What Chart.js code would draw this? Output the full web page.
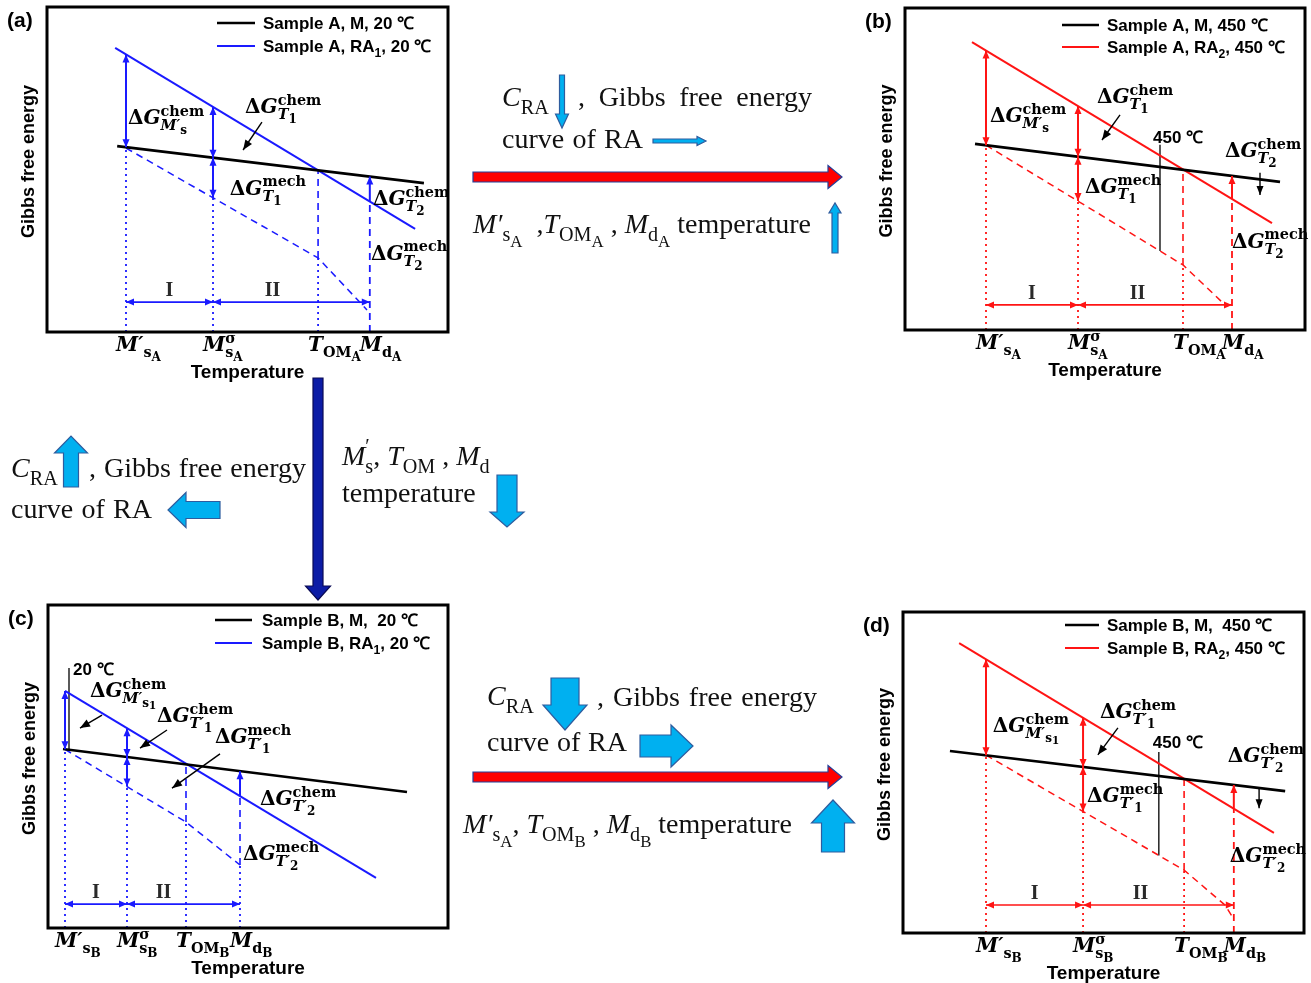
<!DOCTYPE html>
<html>
<head>
<meta charset="utf-8">
<title>Gibbs free energy curves of RA and M</title>
<script src="https://cdn.jsdelivr.net/npm/chart.js@4.4.1/dist/chart.umd.min.js"></script>
<style>
  html, body { margin: 0; padding: 0; background: #fff; }
  #figure { position: relative; width: 1311px; height: 983px; overflow: hidden; background: #fff; }
  #figure canvas { position: absolute; left: 0; top: 0; }
</style>
</head>
<body>
<div id="figure">
  <canvas id="panel-a" width="1311" height="983"></canvas>
  <canvas id="panel-b" width="1311" height="983"></canvas>
  <canvas id="panel-c" width="1311" height="983"></canvas>
  <canvas id="panel-d" width="1311" height="983"></canvas>
</div>
<script>
// temperature axis and energy axis both run 0..100 (schematic units)
// marks = M's, Msσ, T_OM, Md

// (a) sample A, 20 °C
const aMarks = [19.7, 41.4, 67.6, 80.5]
const aMartensite = [{ x: 17.5, y: 57.2 }, { x: 94, y: 45.8 }]
const aAustenite = [{ x: 17, y: 87.4 }, { x: 91.8, y: 31.7 }]
const aMechanical = [{ x: 19.7, y: 56.6 }, { x: 67.6, y: 22.8 }, { x: 79.8, y: 6.8 }]

// (b) sample A, 450 °C
const bMarks = [20.25, 43.25, 69.5, 81.75]
const bMartensite = [{ x: 17.5, y: 57.8 }, { x: 93.75, y: 46 }]
const bAustenite = [{ x: 16.75, y: 89.4 }, { x: 91.75, y: 33.2 }]
const bMechanical = [{ x: 20.25, y: 57.4 }, { x: 69.5, y: 20.2 }, { x: 80, y: 7.8 }]
const bHoldLine = [63.75, 57.5]
const bDrop = [88.75, 48.8, 41.9]

// (c) sample B, 20 °C
const cMarks = [4.25, 19.75, 34.5, 48]
const cMartensite = [{ x: 3.75, y: 55.4 }, { x: 89.75, y: 42.1 }]
const cAustenite = [{ x: 4.25, y: 73.4 }, { x: 82, y: 15.5 }]
const cMechanical = [{ x: 4.25, y: 55.3 }, { x: 34.5, y: 32.8 }, { x: 48, y: 19.5 }]
const cHoldLine = [5.25, 80.5]

// (d) sample B, 450 °C
const dMarks = [20.7, 44.9, 70.1, 82.5]
const dMartensite = [{ x: 11.7, y: 56.7 }, { x: 95.3, y: 44.2 }]
const dAustenite = [{ x: 14, y: 90.3 }, { x: 92.5, y: 31.2 }]
const dMechanical = [{ x: 20.7, y: 55.4 }, { x: 70.1, y: 19.6 }, { x: 80.3, y: 8.7 }, { x: 82.3, y: 4.7 }]
const dHoldLine = [63.8, 56.4]
const dDrop = [88.8, 45.2, 38.9]

// text tokens: [text, level, italic]  level -1 sup, 0 base, 1 sub, 2 sub-sub
const tickLabelsA = [
  [["M′", 0, 1], ["s", 1], ["A", 2]],
  [["M", 0, 1], ["σ", -1], ["s", 1], ["A", 2]],
  [["T", 0, 1], ["OM", 1], ["A", 2]],
  [["M", 0, 1], ["d", 1], ["A", 2]]
]
const tickLabelsB = [
  [["M′", 0, 1], ["s", 1], ["B", 2]],
  [["M", 0, 1], ["σ", -1], ["s", 1], ["B", 2]],
  [["T", 0, 1], ["OM", 1], ["B", 2]],
  [["M", 0, 1], ["d", 1], ["B", 2]]
]
const deltaLabelsA = [
  [["Δ"], ["G", 0, 1], ["chem", -1], ["M′", 1, 1], ["s", 2]],
  [["Δ"], ["G", 0, 1], ["chem", -1], ["T", 1, 1], ["1", 2]],
  [["Δ"], ["G", 0, 1], ["mech", -1], ["T", 1, 1], ["1", 2]],
  [["Δ"], ["G", 0, 1], ["chem", -1], ["T", 1, 1], ["2", 2]],
  [["Δ"], ["G", 0, 1], ["mech", -1], ["T", 1, 1], ["2", 2]]
]
const deltaLabelsB = [
  [["Δ"], ["G", 0, 1], ["chem", -1], ["M′", 1, 1], ["s", 2], ["1", 3]],
  [["Δ"], ["G", 0, 1], ["chem", -1], ["T′", 1, 1], ["1", 2]],
  [["Δ"], ["G", 0, 1], ["mech", -1], ["T′", 1, 1], ["1", 2]],
  [["Δ"], ["G", 0, 1], ["chem", -1], ["T′", 1, 1], ["2", 2]],
  [["Δ"], ["G", 0, 1], ["mech", -1], ["T′", 1, 1], ["2", 2]]
]
const legendA = [[["Sample A, M, 20 ℃"]], [["Sample A, RA"], ["1", 1], [", 20 ℃"]]]
const legendB = [[["Sample A, M, 450 ℃"]], [["Sample A, RA"], ["2", 1], [", 450 ℃"]]]
const legendC = [[["Sample B, M,  20 ℃"]], [["Sample B, RA"], ["1", 1], [", 20 ℃"]]]
const legendD = [[["Sample B, M,  450 ℃"]], [["Sample B, RA"], ["2", 1], [", 450 ℃"]]]

const W = 1311
const H = 983
const SERIF = '"DejaVu Serif", serif'
const TIMES = '"Liberation Serif", "Times New Roman", serif'
const SANS = '"Liberation Sans", Arial, sans-serif'
const BLUE = "#1a1aff"
const RED = "#ff1414"
const LIGHT = "#00b0f0"
const EDGE = "#2e5c9e"

const panels = [
  {
    id: "panel-a", tag: "(a)", color: BLUE, frame: { left: 47, top: 7, right: 448, bottom: 332 },
    marks: aMarks, martensite: aMartensite, austenite: aAustenite, mechanical: aMechanical,
    ticks: tickLabelsA, deltas: deltaLabelsA, legend: legendA, mdTail: "dashed",
    legendAt: { x0: 217, x1: 255, tx: 263, y: [23, 46] }, stageY: 9.2,
    labelAt: [[20.2, 64], [49.4, 67.4], [45.6, 42.2], [81.3, 39.1], [80.8, 22.2]],
    pointers: [[53.6, 64.6, 48.9, 56]]
  },
  {
    id: "panel-b", tag: "(b)", color: RED, frame: { left: 905, top: 8, right: 1305, bottom: 330 },
    marks: bMarks, martensite: bMartensite, austenite: bAustenite, mechanical: bMechanical,
    ticks: tickLabelsA, deltas: deltaLabelsA, legend: legendB, mdTail: "dashed",
    legendAt: { x0: 1062, x1: 1099, tx: 1107, y: [25, 47] }, stageY: 7.8,
    labelAt: [[21.25, 64.6], [48, 70.5], [45, 42.5], [80, 53.7], [81.75, 25.5]],
    pointers: [[53.75, 66.8, 49.25, 59]],
    hold: bHoldLine, holdFrom: "mech", holdLabel: "450 ℃", holdLabelAt: [62, 58.1], drop: bDrop
  },
  {
    id: "panel-c", tag: "(c)", color: BLUE, frame: { left: 48, top: 605, right: 448, bottom: 928 },
    marks: cMarks, martensite: cMartensite, austenite: cAustenite, mechanical: cMechanical,
    ticks: tickLabelsB, deltas: deltaLabelsB, legend: legendC, mdTail: "split",
    legendAt: { x0: 215, x1: 252, tx: 262, y: [620, 643] }, stageY: 7.4,
    labelAt: [[10.5, 71.5], [27.25, 63.8], [41.75, 57.3], [53, 38.1], [48.75, 21]],
    pointers: [[13.5, 65.9, 8, 61.9], [29.75, 61.3, 23, 55.7], [43, 53.9, 31, 43.3]],
    hold: cHoldLine, holdFrom: "m", holdLabel: "20 ℃", holdLabelAt: [6.25, 78.3]
  },
  {
    id: "panel-d", tag: "(d)", color: RED, frame: { left: 903, top: 612, right: 1304, bottom: 933 },
    marks: dMarks, martensite: dMartensite, austenite: dAustenite, mechanical: dMechanical,
    ticks: tickLabelsB, deltas: deltaLabelsB, legend: legendD, mdTail: "dashed",
    legendAt: { x0: 1065, x1: 1099, tx: 1107, y: [625, 648] }, stageY: 8.7,
    labelAt: [[22.4, 62.6], [49.1, 67], [45.9, 40.8], [81, 53.3], [81.5, 22.1]],
    pointers: [[53.6, 63.9, 48.6, 55.5]],
    hold: dHoldLine, holdFrom: "mech", holdLabel: "450 ℃", holdLabelAt: [62.3, 57.6], drop: dDrop
  }
]

function valueAt(points, x) {
  for (let i = 0; i < points.length - 1; i++) {
    const p0 = points[i]
    const p1 = points[i + 1]
    if (x <= p1.x || i === points.length - 2) return p0.y + (p1.y - p0.y) * (x - p0.x) / (p1.x - p0.x)
  }
}

function drawMath(ctx, tokens, x, y, o) {
  const size = o.size
  const family = o.family || SERIF
  const weight = o.weight || "bold"
  const scale = { "-1": 0.72, 0: 1, 1: 0.72, 2: 0.6, 3: 0.52 }
  const shift = { "-1": -0.42, 0: 0, 1: 0.3, 2: 0.5, 3: 0.6 }
  let cx = 0
  let reach = 0
  const parts = tokens.map(tk => {
    const text = tk[0]
    const level = tk[1] || 0
    ctx.font = `${tk[2] ? "italic " : ""}${weight} ${(size * scale[level]).toFixed(1)}px ${family}`
    const w = ctx.measureText(text).width
    const part = { text, font: ctx.font, x: cx, dy: size * shift[level] }
    if (level === -1) reach = Math.max(reach, cx + w)
    else cx += w
    reach = Math.max(reach, cx)
    return part
  })
  const left = o.align === "center" ? x - reach / 2 : x
  ctx.save()
  ctx.fillStyle = o.color || "#000"
  ctx.textBaseline = "alphabetic"
  ctx.textAlign = "left"
  parts.forEach(part => {
    ctx.font = part.font
    ctx.fillText(part.text, left + part.x, y + part.dy)
  })
  ctx.restore()
  return reach
}

function spreadText(ctx, text, x, y, width, o) {
  ctx.save()
  ctx.font = `${o.weight || "normal"} ${o.size}px ${o.family}`
  ctx.fillStyle = o.color || "#000"
  ctx.textBaseline = "alphabetic"
  const words = text.split(" ")
  const total = words.reduce((s, w) => s + ctx.measureText(w).width, 0)
  const gap = words.length > 1 ? (width - total) / (words.length - 1) : 0
  let cx = x
  words.forEach(w => {
    ctx.fillText(w, cx, y)
    cx += ctx.measureText(w).width + gap
  })
  ctx.restore()
}

function arrowHead(ctx, x, y, angle, len, half) {
  const c = Math.cos(angle)
  const s = Math.sin(angle)
  ctx.beginPath()
  ctx.moveTo(x, y)
  ctx.lineTo(x - len * c + half * s, y - len * s - half * c)
  ctx.lineTo(x - len * c - half * s, y - len * s + half * c)
  ctx.closePath()
  ctx.fill()
}

function arrow(ctx, x0, y0, x1, y1, o) {
  const angle = Math.atan2(y1 - y0, x1 - x0)
  ctx.save()
  ctx.strokeStyle = o.color
  ctx.fillStyle = o.color
  ctx.lineWidth = o.width || 2
  ctx.beginPath()
  ctx.moveTo(x0, y0)
  ctx.lineTo(x1, y1)
  ctx.stroke()
  arrowHead(ctx, x1, y1, angle, o.len || 8, o.half || 3.5)
  if (o.both) arrowHead(ctx, x0, y0, angle + Math.PI, o.len || 8, o.half || 3.5)
  ctx.restore()
}

function blockArrow(ctx, x0, y0, x1, y1, shaft, head, headLen, fill, stroke) {
  const angle = Math.atan2(y1 - y0, x1 - x0)
  const len = Math.hypot(x1 - x0, y1 - y0)
  ctx.save()
  ctx.translate(x0, y0)
  ctx.rotate(angle)
  ctx.beginPath()
  ctx.moveTo(0, -shaft / 2)
  ctx.lineTo(len - headLen, -shaft / 2)
  ctx.lineTo(len - headLen, -head / 2)
  ctx.lineTo(len, 0)
  ctx.lineTo(len - headLen, head / 2)
  ctx.lineTo(len - headLen, shaft / 2)
  ctx.lineTo(0, shaft / 2)
  ctx.closePath()
  ctx.fillStyle = fill
  ctx.fill()
  ctx.strokeStyle = stroke
  ctx.lineWidth = 1.2
  ctx.stroke()
  ctx.restore()
}

function buildDatasets(p) {
  const m = v => valueAt(p.martensite, v)
  const ra = v => valueAt(p.austenite, v)
  const mech = v => valueAt(p.mechanical, v)
  const ms = p.marks[0]
  const msig = p.marks[1]
  const tom = p.marks[2]
  const md = p.marks[3]
  const dotted = [2, 4]
  const dashed = [7, 5]
  const line = (data, color, width, dash) => ({
    data, borderColor: color, borderWidth: width, borderDash: dash || [], pointRadius: 0, fill: false, tension: 0
  })

  const sets = [
    line(p.martensite, "#000", 2.6),
    line(p.austenite, p.color, 2),
    line(p.mechanical, p.color, 1.5, dashed),
    line([{ x: ms, y: 0 }, { x: ms, y: m(ms) }], p.color, 1.8, dotted),
    line([{ x: msig, y: 0 }, { x: msig, y: mech(msig) }], p.color, 1.8, dotted),
    line([{ x: tom, y: mech(tom) }, { x: tom, y: m(tom) }], p.color, 1.6, dashed),
    line([{ x: tom, y: 0 }, { x: tom, y: mech(tom) }], p.color, 1.8, dotted)
  ]
  if (p.mdTail === "split") {
    sets.push(line([{ x: md, y: mech(md) }, { x: md, y: ra(md) }], p.color, 1.6, dashed))
    sets.push(line([{ x: md, y: 0 }, { x: md, y: mech(md) }], p.color, 1.8, dotted))
  } else {
    sets.push(line([{ x: md, y: 0 }, { x: md, y: ra(md) }], p.color, 1.8, dashed))
  }
  if (p.hold) {
    const base = p.holdFrom === "mech" ? mech(p.hold[0]) : m(p.hold[0])
    sets.push(line([{ x: p.hold[0], y: base }, { x: p.hold[0], y: p.hold[1] }], "#000", 1.3))
  }
  return sets
}

function panelDecor(p) {
  return {
    id: "panelDecor",
    afterDatasetsDraw(chart) {
      const ctx = chart.ctx
      const area = chart.chartArea
      const px = v => chart.scales.x.getPixelForValue(v)
      const py = v => chart.scales.y.getPixelForValue(v)
      const m = v => valueAt(p.martensite, v)
      const ra = v => valueAt(p.austenite, v)
      const mech = v => valueAt(p.mechanical, v)
      const ms = p.marks[0]
      const msig = p.marks[1]
      const md = p.marks[3]
      const head = { color: p.color, width: 2, len: 8, half: 3.5 }

      // driving force arrows
      arrow(ctx, px(ms), py(m(ms)), px(ms), py(ra(ms)), { ...head, both: true })
      arrow(ctx, px(msig), py(m(msig)), px(msig), py(ra(msig)), { ...head, both: true })
      arrow(ctx, px(msig), py(mech(msig)), px(msig), py(m(msig)), { ...head, both: true })
      arrow(ctx, px(md), py(ra(md)), px(md), py(m(md)), head)

      // stage I / II
      const stage = py(p.stageY)
      arrow(ctx, px(ms), stage, px(msig), stage, { ...head, width: 1.6, both: true })
      arrow(ctx, px(msig), stage, px(md), stage, { ...head, width: 1.6, both: true })
      ctx.save()
      ctx.fillStyle = "#2a2a2a"
      ctx.font = `bold 20px ${TIMES}`
      ctx.textAlign = "center"
      ctx.fillText("I", (px(ms) + px(msig)) / 2, stage - 6)
      ctx.fillText("II", (px(msig) + px(p.marks[2])) / 2 + 7, stage - 6)
      ctx.restore()

      if (p.drop) arrow(ctx, px(p.drop[0]), py(p.drop[1]), px(p.drop[0]), py(p.drop[2]), { color: "#000", width: 1.4, len: 9, half: 3.5 })
      p.pointers.forEach(q => arrow(ctx, px(q[0]), py(q[1]), px(q[2]), py(q[3]), { color: "#000", width: 1.4, len: 10, half: 4 }))
      p.labelAt.forEach((at, i) => drawMath(ctx, p.deltas[i], px(at[0]), py(at[1]), { size: 20 }))
      if (p.hold) drawMath(ctx, [[p.holdLabel]], px(p.holdLabelAt[0]), py(p.holdLabelAt[1]), { size: 17, family: SANS })

      // frame
      ctx.save()
      ctx.lineWidth = 3
      ctx.strokeStyle = "#000"
      ctx.strokeRect(area.left, area.top, area.right - area.left, area.bottom - area.top)
      ctx.restore()

      // temperature marks
      p.marks.forEach((v, i) => drawMath(ctx, p.ticks[i], px(v) - 10, area.bottom + 19, { size: 20 }))

      // titles and panel tag
      ctx.save()
      ctx.fillStyle = "#000"
      ctx.font = `bold 19px ${SANS}`
      ctx.textAlign = "center"
      ctx.fillText("Temperature", (area.left + area.right) / 2, area.bottom + 46)
      ctx.translate(area.left - 18, (area.top + area.bottom) / 2 - 8)
      ctx.rotate(-Math.PI / 2)
      ctx.textBaseline = "middle"
      ctx.font = `bold 18px ${SANS}`
      ctx.fillText("Gibbs free energy", 0, 0)
      ctx.restore()
      drawMath(ctx, [[p.tag]], area.left - 40, area.top + 20, { size: 21, family: SANS })

      // legend
      p.legend.forEach((tokens, i) => {
        const y = p.legendAt.y[i]
        ctx.save()
        ctx.strokeStyle = i ? p.color : "#000"
        ctx.lineWidth = i ? 2 : 2.5
        ctx.beginPath()
        ctx.moveTo(p.legendAt.x0, y)
        ctx.lineTo(p.legendAt.x1, y)
        ctx.stroke()
        ctx.restore()
        drawMath(ctx, tokens, p.legendAt.tx, y + 6, { size: 17, family: SANS })
      })
    }
  }
}

const connectorText = { size: 28, family: TIMES, weight: "normal", color: "#111" }

function drawConnectors(ctx) {
  // (a) -> (b)
  drawMath(ctx, [["C", 0, 1], ["RA", 1]], 502, 106, connectorText)
  blockArrow(ctx, 562, 75, 562, 128, 5, 13, 14, LIGHT, EDGE)
  spreadText(ctx, ", Gibbs free energy", 578, 106, 234, connectorText)
  spreadText(ctx, "curve of RA", 502, 148, 141, connectorText)
  blockArrow(ctx, 653, 141, 706, 141, 4, 9, 9, LIGHT, EDGE)
  blockArrow(ctx, 473, 177, 842, 177, 10, 23, 14, "#ff0000", "#24409a")
  drawMath(ctx, [["M′", 0, 1], ["s", 1], ["A", 2], ["  ,", 0], ["T", 0, 1], ["OM", 1], ["A", 2], [" , ", 0],
    ["M", 0, 1], ["d", 1], ["A", 2], [" temperature", 0]], 473, 233, connectorText)
  blockArrow(ctx, 835, 253, 835, 203, 6, 12, 10, LIGHT, EDGE)

  // (a) -> (c)
  blockArrow(ctx, 318, 378, 318, 600, 10, 25, 14, "#0c1ca6", "#0a0a55")
  drawMath(ctx, [["C", 0, 1], ["RA", 1]], 11, 477, connectorText)
  blockArrow(ctx, 71, 487, 71, 436, 15, 33, 17, LIGHT, EDGE)
  spreadText(ctx, ", Gibbs free energy", 89, 477, 217, connectorText)
  spreadText(ctx, "curve of RA", 11, 518, 141, connectorText)
  blockArrow(ctx, 220, 510, 168, 510, 17, 35, 18, LIGHT, EDGE)
  drawMath(ctx, [["M", 0, 1], ["′", -1], ["s", 1], [", ", 0], ["T", 0, 1], ["OM", 1], [" , ", 0], ["M", 0, 1], ["d", 1]],
    342, 465, connectorText)
  spreadText(ctx, "temperature", 342, 502, 137, connectorText)
  blockArrow(ctx, 507, 475, 507, 527, 20, 34, 15, LIGHT, EDGE)

  // (c) -> (d)
  drawMath(ctx, [["C", 0, 1], ["RA", 1]], 487, 705, connectorText)
  blockArrow(ctx, 565, 678, 565, 730, 28, 44, 25, LIGHT, EDGE)
  spreadText(ctx, ", Gibbs free energy", 597, 706, 220, connectorText)
  spreadText(ctx, "curve of RA", 487, 751, 140, connectorText)
  blockArrow(ctx, 640, 746, 693, 746, 22, 42, 22, LIGHT, EDGE)
  blockArrow(ctx, 473, 777, 842, 777, 10, 23, 14, "#ff0000", "#24409a")
  drawMath(ctx, [["M′", 0, 1], ["s", 1], ["A", 2], [", ", 0], ["T", 0, 1], ["OM", 1], ["B", 2], [" , ", 0],
    ["M", 0, 1], ["d", 1], ["B", 2], [" temperature", 0]], 463, 833, connectorText)
  blockArrow(ctx, 833, 852, 833, 800, 23, 43, 23, LIGHT, EDGE)
}

panels.forEach((p, index) => {
  const plugins = [panelDecor(p)]
  if (index === 0) plugins.push({ id: "connectors", afterDraw: chart => drawConnectors(chart.ctx) })

  new Chart(document.getElementById(p.id), {
    type: "line",
    data: { datasets: buildDatasets(p) },
    options: {
      responsive: false,
      animation: false,
      events: [],
      layout: { padding: { left: p.frame.left, top: p.frame.top, right: W - p.frame.right, bottom: H - p.frame.bottom } },
      scales: {
        x: { type: "linear", min: 0, max: 100, display: false },
        y: { type: "linear", min: 0, max: 100, display: false }
      },
      plugins: { legend: { display: false }, tooltip: { enabled: false }, title: { display: false } }
    },
    plugins
  })
})
</script>
</body>
</html>
